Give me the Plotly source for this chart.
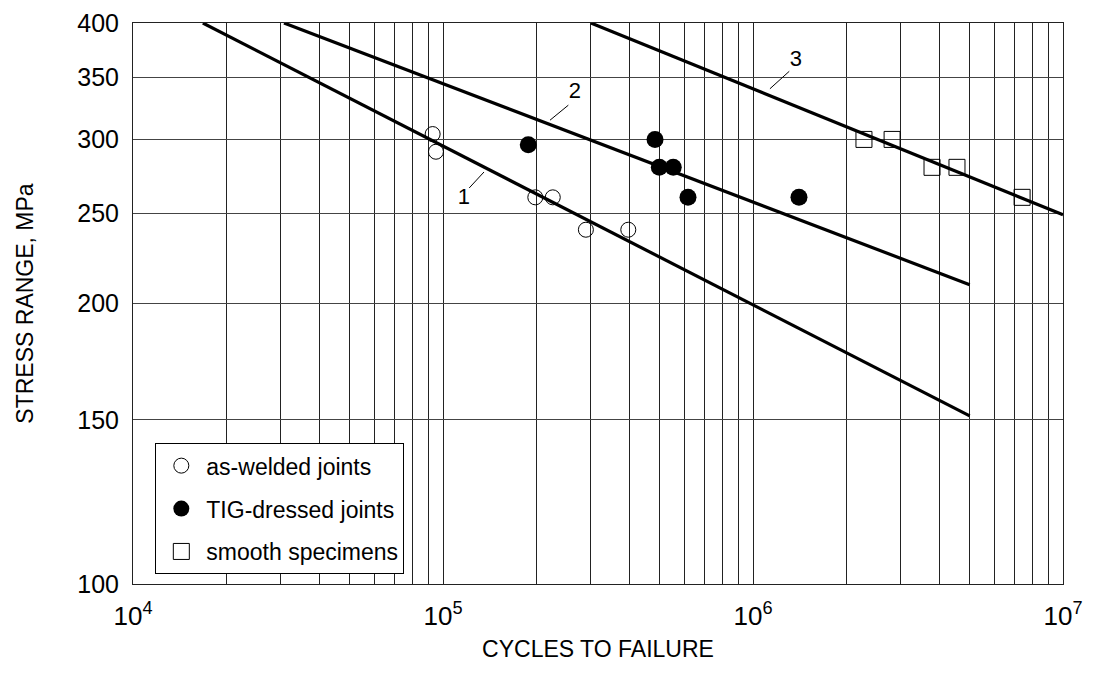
import plotly.graph_objects as go

# --- data ---
N_as_welded = [92600, 94900, 198500, 226000, 289000, 396000]
S_as_welded = [304, 291, 260, 260, 240, 240]

N_tig = [188400, 483000, 498700, 553000, 617000, 1407000]
S_tig = [296, 300, 280, 280, 260, 260]

N_smooth = [2.28e6, 2.81e6, 3.78e6, 4.55e6, 7.38e6]
S_smooth = [300, 300, 280, 280, 260]

curve1_N = [1.68e4, 5.0e6]
curve1_S = [400, 151.5]
curve2_N = [3.07e4, 5.0e6]
curve2_S = [400, 209.5]
curve3_N = [3.0e5, 1.0e7]
curve3_S = [400, 249]

curve_labels = ["1", "2", "3"]
label_N = [116800, 266500, 1.376e6]
label_S = [259.2, 336.6, 364.8]
leader_N = [[121500, 135600], [253700, 221400], [1.309e6, 1.134e6]]
leader_S = [[266.1, 276.8], [326.5, 314.6], [355, 340]]

y_ticks = [100, 150, 200, 250, 300, 350, 400]
x_decades = [1e4, 1e5, 1e6, 1e7]
x_decade_labels = ["10<sup>4</sup>", "10<sup>5</sup>", "10<sup>6</sup>", "10<sup>7</sup>"]
x_multiples = [2, 3, 4, 5, 6, 7, 8, 9]

FONT = "Arial, Liberation Sans, sans-serif"

fig = go.Figure()

for cn, cs in [(curve1_N, curve1_S), (curve2_N, curve2_S), (curve3_N, curve3_S)]:
    fig.add_trace(go.Scatter(x=cn, y=cs, mode="lines", line=dict(color="black", width=3.2),
                             showlegend=False, hoverinfo="skip"))

for ln, ls in zip(leader_N, leader_S):
    fig.add_trace(go.Scatter(x=ln, y=ls, mode="lines", line=dict(color="black", width=1),
                             showlegend=False, hoverinfo="skip"))

fig.add_trace(go.Scatter(x=label_N, y=label_S, mode="text", text=curve_labels,
                         textfont=dict(family=FONT, size=22, color="black"),
                         showlegend=False, hoverinfo="skip"))

fig.add_trace(go.Scatter(x=N_as_welded, y=S_as_welded, mode="markers", name="as-welded joints",
                         marker=dict(symbol="circle-open", size=15, color="black", line=dict(width=1)),
                         legendgroup="a"))
fig.add_trace(go.Scatter(x=N_tig, y=S_tig, mode="markers", name="TIG-dressed joints",
                         marker=dict(symbol="circle", size=17, color="black"),
                         legendgroup="b"))
fig.add_trace(go.Scatter(x=N_smooth, y=S_smooth, mode="markers", name="smooth specimens",
                         marker=dict(symbol="square-open", size=16, color="black", line=dict(width=1)),
                         legendgroup="c"))

x_minor = [d * m for d in x_decades[:-1] for m in x_multiples]

# page body has an 8px margin, so the figure is sized/offset to compensate
fig.update_layout(
    width=1086, height=667,
    margin=dict(l=125, r=31, t=15, b=91),
    paper_bgcolor="white", plot_bgcolor="white",
    font=dict(family=FONT, color="black"),
    showlegend=True,
    legend=dict(x=0.024, y=0.251, xanchor="left", yanchor="top",
                bordercolor="black", borderwidth=1, bgcolor="white",
                font=dict(family=FONT, size=23, color="black"),
                tracegroupgap=10, itemwidth=40),
    xaxis=dict(type="log", range=[4, 7], tickvals=x_decades, ticktext=x_decade_labels,
               automargin=False,
               showgrid=True, gridcolor="#222", gridwidth=1, ticks="",
               minor=dict(tickvals=x_minor, showgrid=True, gridcolor="#222", gridwidth=1, ticks=""),
               showline=True, linecolor="#222", linewidth=1, mirror=True, zeroline=False,
               tickfont=dict(family=FONT, size=26), ticklabelstandoff=9,
               title=dict(text="CYCLES TO FAILURE", font=dict(family=FONT, size=23), standoff=10)),
    yaxis=dict(type="log", range=[2, 0.60206 + 2], tickvals=y_ticks,
               ticktext=[str(v) for v in y_ticks], automargin=False,
               showgrid=True, gridcolor="#444", gridwidth=1, ticks="",
               showline=True, linecolor="#222", linewidth=1, mirror=True, zeroline=False,
               tickfont=dict(family=FONT, size=25), ticklabelstandoff=8,
               title=dict(text="STRESS RANGE, MPa", font=dict(family=FONT, size=23), standoff=37)),
)

fig.write_html("out.html")
